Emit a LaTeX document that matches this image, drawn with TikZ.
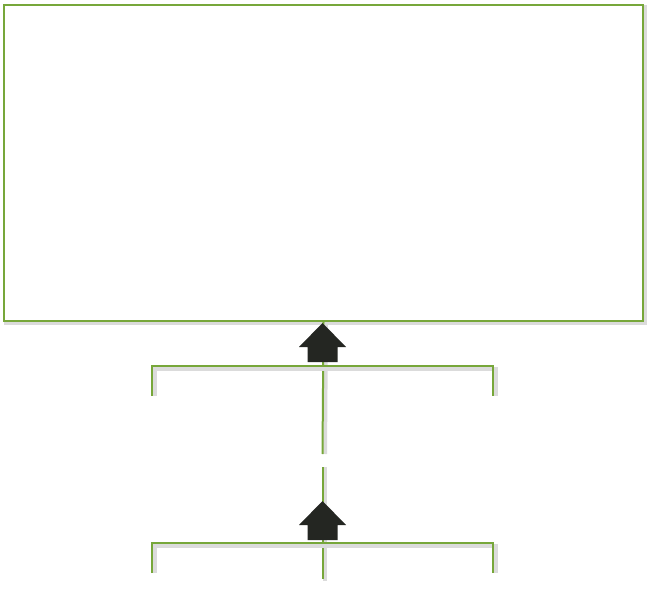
\documentclass[tikz,border=0pt]{standalone}
\usetikzlibrary{calc}
\definecolor{leafgreen}{RGB}{119,167,58}
\definecolor{arrowdark}{RGB}{36,38,34}
\tikzset{
  gline/.style={draw=leafgreen,line width=2pt},            % green stroke
  shadeline/.style={draw=black!14,line width=4pt},         % soft shadow
  uparrow/.style={fill=arrowdark},
  box/.style={gline,fill=white,inner sep=0pt,minimum width=639pt,minimum height=316pt},
}
\newcommand{\blockarrow}[1]{% tip coordinate
  \fill[uparrow] (#1) -- ++(23.5,24) -- ++(-8.5,0) -- ++(0,15) -- ++(-30,0)
    -- ++(0,-15) -- ++(-8.5,0) -- cycle;
}
\newcommand{\bracket}[3]{% left, right, tick length
  \draw[shadeline] ($(#1)+(2.5,#3)$) |- ($(#2)+(2.5,2.5)$) -- ++(0,#3-2.5);
  \draw[gline] ($(#1)+(0,#3)$) |- (#2) -- ++(0,#3);
}

\begin{document}
\begin{tikzpicture}[x=1pt,y=-1pt]
  \useasboundingbox (0,0) rectangle (651,607);
  % top box
  \draw[shadeline] (6,7) rectangle (645,323);
  \node[box,anchor=north west] (chart) at (3,4) {};
  % coordinates of the two levels
  \coordinate (tipA) at (322.5,323);
  \coordinate (tipB) at (322.5,501);
  \coordinate (lA) at (152,366); \coordinate (rA) at (493,366);
  \coordinate (lB) at (152,543); \coordinate (rB) at (493,543);
  \coordinate (gapT) at (322.5,454);
  \coordinate (gapB) at (322.5,467);
  \coordinate (stem) at (322.5,579);
  % stems
  \draw[shadeline] ($(chart.south)+(2.5,2)$) -- ($(gapT)+(2.5,0)$);
  \draw[shadeline] ($(gapB)+(2.5,0)$) -- ($(stem)+(2.5,2)$);
  \draw[gline] (chart.south) -- (gapT);
  \draw[gline] (gapB) -- (tipB) -- (stem);
  % brackets
  \bracket{lA}{rA}{30}
  \bracket{lB}{rB}{30}
  % arrows
  \blockarrow{tipA}
  \blockarrow{tipB}
\end{tikzpicture}
\end{document}
